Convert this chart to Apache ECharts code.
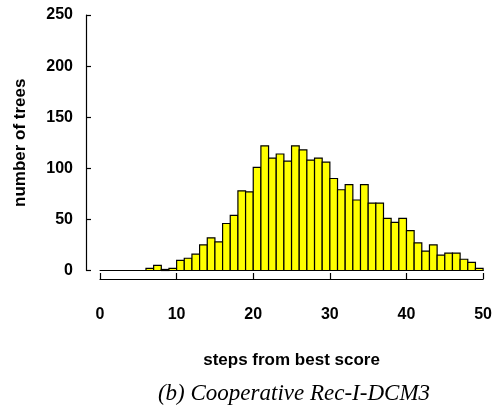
<!DOCTYPE html>
<html>
<head>
<meta charset="utf-8">
<script src="https://cdn.jsdelivr.net/npm/echarts@6/dist/echarts.min.js"></script>
<style>html,body{margin:0;padding:0;background:#fff}#c{width:495px;height:408px}</style>
</head>
<body>
<div id="c"></div>
<script>
// bin start (steps from best score), each bin is 1 step wide
const binStarts = [0,1,2,3,4,5,6,7,8,9,10,11,12,13,14,15,16,17,18,19,20,21,22,23,24,25,26,27,28,29,30,31,32,33,34,35,36,37,38,39,40,41,42,43,44,45,46,47,48,49];
// number of trees per bin
const treeCounts = [0,0,0,0,0,0,2,5,1,2,10,12,16,25,32,28,46,54,78,77,101,122,110,114,107,122,118,108,110,106,90,79,84,69,84,66,66,51,47,51,39,27,19,25,15,17,17,11,8,2];
const xTicks = [0,10,20,30,40,50];
const yTicks = [0,50,100,150,200,250];
const xName = 'steps from best score';
const yName = 'number of trees';
const caption = '(b) Cooperative Rec-I-DCM3';

const data = binStarts.map((b, i) => [b, treeCounts[i]]);
const chart = echarts.init(document.getElementById('c'), null, {renderer: 'canvas'});
const labelFont = {color: '#000', fontFamily: 'Liberation Sans, Arial, sans-serif', fontWeight: 'bold', fontSize: 16};
const nameFont = Object.assign({}, labelFont, {fontSize: 17});
chart.setOption({
  animation: false,
  backgroundColor: '#fff',
  title: {
    text: caption, left: 289, textAlign: 'center', top: 377,
    textStyle: {fontFamily: 'Liberation Serif, Times New Roman, serif', fontStyle: 'italic', fontWeight: 'normal', fontSize: 23, color: '#000'}
  },
  grid: {left: 100, right: 10, top: 15, bottom: 137.5, containLabel: false},
  xAxis: [{
    type: 'value', min: xTicks[0], max: xTicks[xTicks.length - 1], interval: xTicks[1] - xTicks[0],
    offset: 8.5, position: 'bottom',
    name: xName, nameLocation: 'middle', nameGap: 72.5,
    nameTextStyle: nameFont,
    axisLine: {show: true, onZero: false, lineStyle: {color: '#000', width: 1.2}},
    axisTick: {show: true, inside: true, length: 6, lineStyle: {color: '#000', width: 1.2}},
    axisLabel: Object.assign({margin: 27.5}, labelFont),
    splitLine: {show: false}
  }, {
    type: 'value', min: xTicks[0], max: xTicks[xTicks.length - 1], position: 'bottom', offset: 0,
    axisLine: {show: true, onZero: false, lineStyle: {color: '#000', width: 1}},
    axisTick: {show: false}, axisLabel: {show: false}, splitLine: {show: false}
  }],
  yAxis: {
    type: 'value', min: yTicks[0], max: yTicks[yTicks.length - 1], interval: yTicks[1] - yTicks[0],
    offset: 14, position: 'left',
    name: yName, nameLocation: 'middle', nameGap: 57,
    nameTextStyle: nameFont,
    axisLine: {show: true, onZero: false, lineStyle: {color: '#000', width: 1.2}},
    axisTick: {show: true, inside: true, length: 5, lineStyle: {color: '#000', width: 1.2}},
    axisLabel: Object.assign({margin: 13}, labelFont),
    splitLine: {show: false}
  },
  series: [{
    type: 'custom',
    xAxisIndex: 0,
    data: data,
    renderItem: function (params, api) {
      const x = api.value(0), v = api.value(1);
      const p0 = api.coord([x, v]);
      const p1 = api.coord([x + 1, 0]);
      return {
        type: 'rect',
        shape: {x: p0[0], y: p0[1], width: p1[0] - p0[0], height: p1[1] - p0[1]},
        style: {fill: '#ffff00', stroke: '#000', lineWidth: 1.2}
      };
    }
  }]
});
</script>
</body>
</html>
